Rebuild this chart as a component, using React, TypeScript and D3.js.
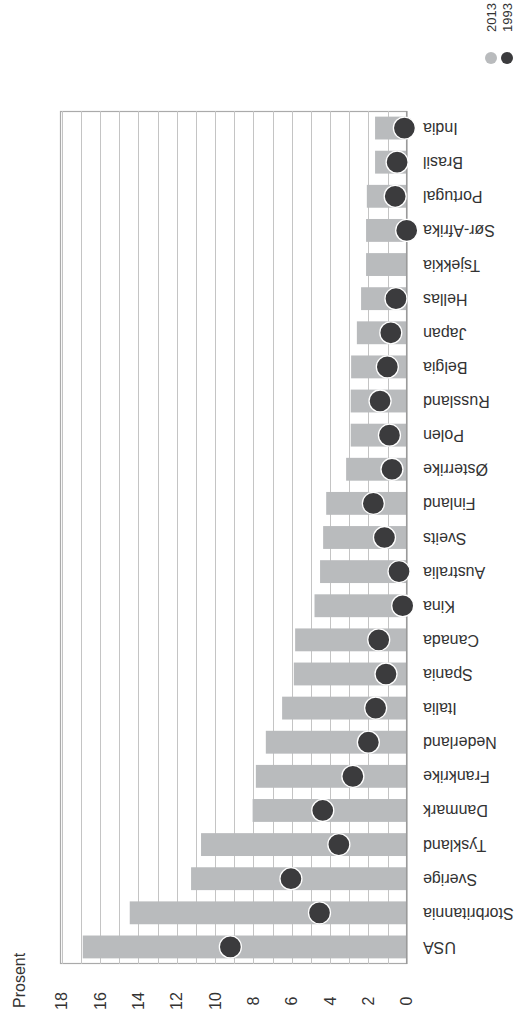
import React from "react";
import * as d3 from "d3";

const countries = [
  "India", "Brasil", "Portugal", "Sør-Afrika", "Tsjekkia", "Hellas", "Japan", "Belgia",
  "Russland", "Polen", "Østerrike", "Finland", "Sveits", "Australia", "Kina", "Canada",
  "Spania", "Italia", "Nederland", "Frankrike", "Danmark", "Tyskland", "Sverige",
  "Storbritannia", "USA",
];
const values2013 = [
  1.65, 1.65, 2.08, 2.12, 2.12, 2.38, 2.6, 2.9, 2.92, 2.92, 3.16, 4.2, 4.36, 4.52, 4.81,
  5.82, 5.89, 6.5, 7.35, 7.87, 8.04, 10.73, 11.25, 14.45, 16.9,
];
const values1993: (number | null)[] = [
  0.12, 0.5, 0.6, 0.0, null, 0.56, 0.83, 1.01, 1.39, 0.9, 0.77, 1.74, 1.16, 0.4, 0.21,
  1.46, 1.08, 1.62, 2.0, 2.81, 4.38, 3.54, 6.04, 4.55, 9.2,
];
const ticks = [0, 2, 4, 6, 8, 10, 12, 14, 16, 18];
const gridValues = d3.range(1, 19);
const legendLabels = ["2013", "1993"];
const axisTitle = "Prosent";

const W = 520;
const H = 1019;
const FONT = "Liberation Sans, Arial, Helvetica, sans-serif";
const BAR = "#b9bbbd";
const DOT = "#3b3b3d";

export default function App() {
  const x = d3.scaleLinear().domain([0, 18]).range([406.7, 61.7]);
  const y = d3.scaleBand<string>().domain(countries).range([111, 964]).paddingInner(0.33).paddingOuter(0.165);
  const top = 111;
  const bottom = 964;
  const left = 60;

  return (
    <svg width={W} height={H} style={{ position: "absolute", left: 0, top: 0 }} fontFamily={FONT}>
      <rect x={0} y={0} width={W} height={H} fill="#fff" />
      <rect x={left + 0.5} y={top + 0.5} width={x(0) - left - 0.5} height={bottom - top - 1} fill="none" stroke="#aaa" strokeWidth={1.2} />
      {gridValues.map((v) => (
        <line key={v} x1={Math.round(x(v)) + 0.5} x2={Math.round(x(v)) + 0.5} y1={top} y2={bottom} stroke="#c4c4c4" strokeWidth={1} />
      ))}
      {countries.map((c, i) => (
        <rect key={c} x={x(values2013[i])} y={y(c)} width={x(0) - x(values2013[i])} height={y.bandwidth()} fill={BAR} />
      ))}
      <line x1={x(0)} x2={x(0)} y1={top} y2={bottom} stroke="#9a9a9a" strokeWidth={1.5} />
      {countries.map((c, i) => {
        const v = values1993[i];
        if (v === null) return null;
        return (
          <circle key={c} cx={x(v)} cy={(y(c) as number) + y.bandwidth() / 2} r={11} fill={DOT} stroke="#fff" strokeWidth={1.3} />
        );
      })}
      {countries.map((c) => {
        const cy = (y(c) as number) + y.bandwidth() / 2;
        return (
          <text key={c} x={423} y={cy + 5} textAnchor="end" fontSize={16} fill="#333" transform={`rotate(180, 423, ${cy})`}>
            {c}
          </text>
        );
      })}
      {ticks.map((t) => (
        <text key={t} transform={`translate(${x(t)}, 1001) rotate(-90)`} textAnchor="middle" dy="0.35em" fontSize={16} fill="#333">
          {t}
        </text>
      ))}
      <text transform="translate(25, 1008) rotate(-90)" fontSize={16} fill="#333">
        {axisTitle}
      </text>
      <g>
        <text transform="translate(496, 32) rotate(-90)" fontSize={13} fill="#333">{legendLabels[0]}</text>
        <text transform="translate(512, 32) rotate(-90)" fontSize={13} fill="#333">{legendLabels[1]}</text>
        <circle cx={491} cy={58} r={6} fill={BAR} />
        <circle cx={507} cy={58} r={6} fill={DOT} />
      </g>
    </svg>
  );
}
